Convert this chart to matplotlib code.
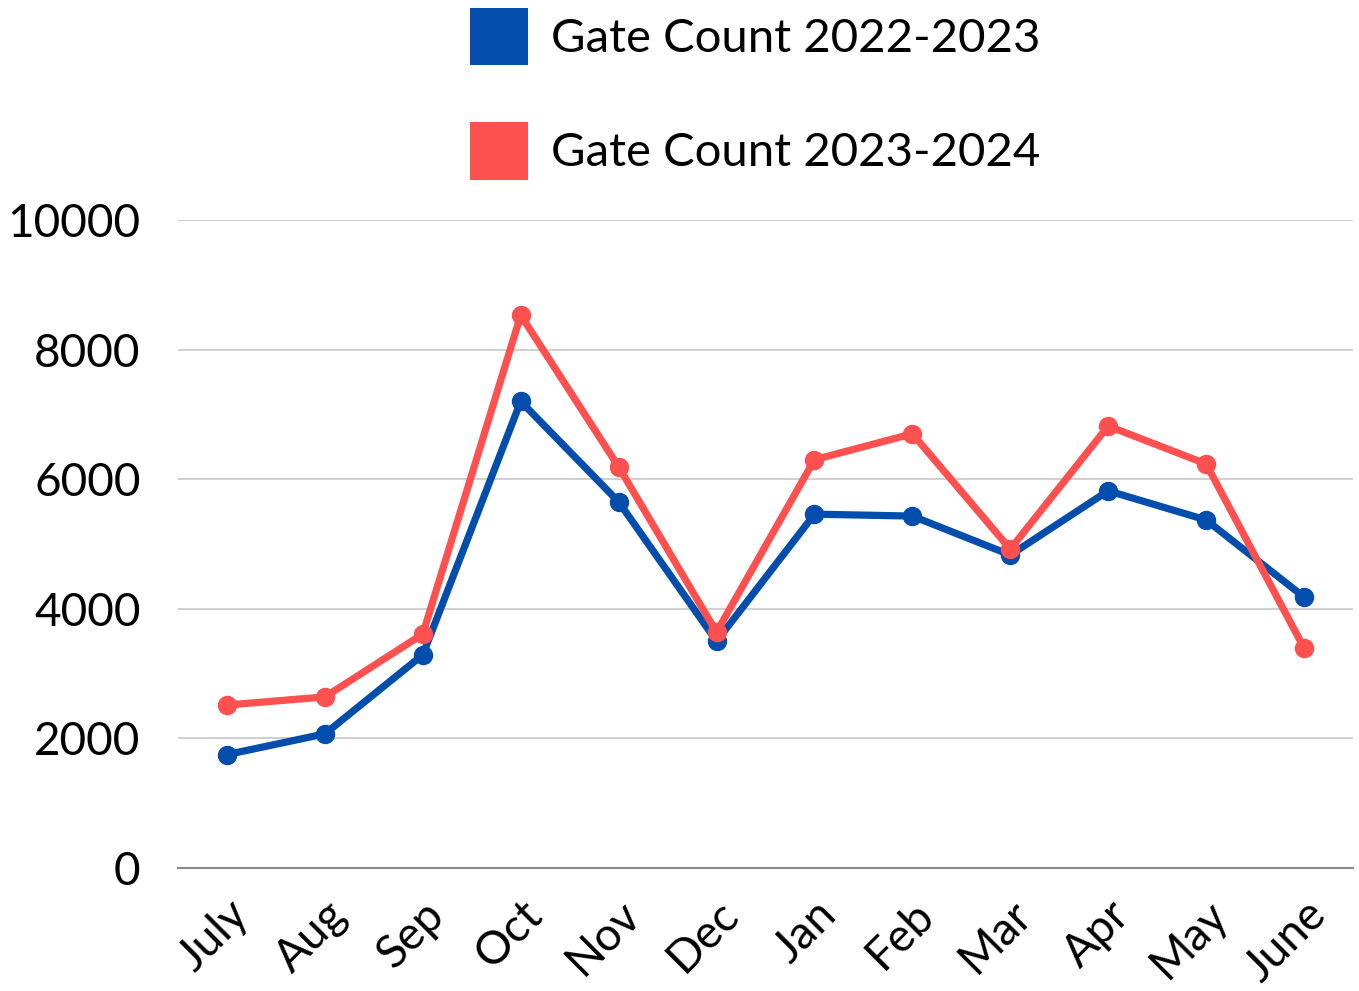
import matplotlib.pyplot as plt
from matplotlib.patches import Patch

plt.rcParams['font.family'] = ['Lato', 'DejaVu Sans']

months = ["July", "Aug", "Sep", "Oct", "Nov", "Dec", "Jan", "Feb", "Mar", "Apr", "May", "June"]
gate_2022_23 = [1750, 2070, 3290, 7200, 5650, 3500, 5460, 5430, 4830, 5820, 5370, 4180]
gate_2023_24 = [2515, 2640, 3610, 8530, 6190, 3640, 6300, 6700, 4920, 6820, 6235, 3395]
series_names = ["Gate Count 2022-2023", "Gate Count 2023-2024"]
colors = ["#034ead", "#ff5050"]

fig = plt.figure(figsize=(13.59, 9.91), dpi=100)
ax = fig.add_axes([0.131, 0.1241, 0.8646, 0.654])

x = range(len(months))
for vals, c in zip([gate_2022_23, gate_2023_24], colors):
    ax.plot(x, vals, color=c, lw=5.2, marker='o', ms=13, solid_joinstyle='miter')

ax.set_xlim(-0.5, len(months) - 0.5)
ax.set_ylim(0, 10000)
ax.set_yticks([0, 2000, 4000, 6000, 8000, 10000])
ax.set_xticks(list(x))
ax.set_xticklabels(months, rotation=45, ha='right', va='top', rotation_mode='anchor')
ax.tick_params(axis='both', length=0, labelsize=33)
ax.tick_params(axis='x', pad=18)
ax.tick_params(axis='y', pad=27)
ax.grid(axis='y', color='#cccccc', lw=1.3)
ax.set_axisbelow(True)
for s in ['top', 'right', 'left']:
    ax.spines[s].set_visible(False)
ax.spines['bottom'].set_color('#888888')
ax.spines['bottom'].set_linewidth(1.5)

handles = [Patch(facecolor=c, edgecolor='none') for c in colors]
fig.legend(handles, series_names, loc='upper left', bbox_to_anchor=(0.3145, 1.035),
           frameon=False, fontsize=34, handlelength=1.23, handleheight=1.5,
           labelspacing=1.2, handletextpad=0.48)

fig.savefig("out.png", dpi=100)
